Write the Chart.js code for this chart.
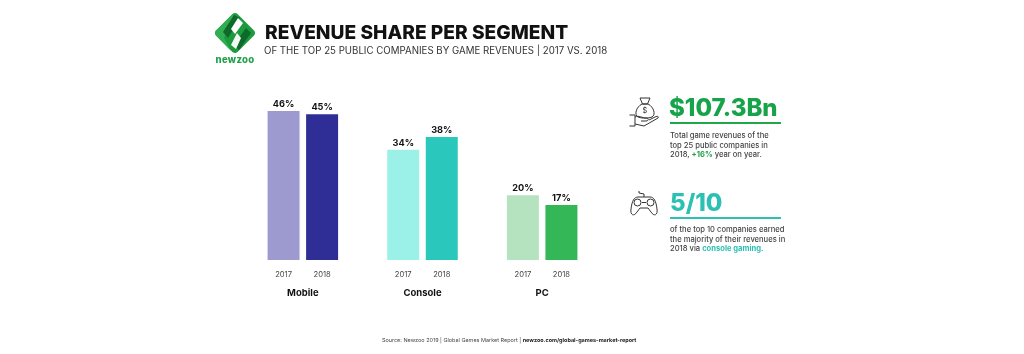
<!DOCTYPE html>
<html>
<head>
<meta charset="utf-8">
<title>Revenue share per segment</title>
<script src="https://cdn.jsdelivr.net/npm/chart.js@4"></script>
<style>
  html, body { margin: 0; padding: 0; background: #fff; }
  body { width: 1024px; height: 354px; position: relative; overflow: hidden; font-family: Inter, sans-serif; color: #1a1a1a; }
  #chart { position: absolute; left: 0; top: 0; }
  .t { position: absolute; white-space: nowrap; }
  .blurb { font-size: 7.6px; line-height: 9.6px; color: #444; font-weight: 500; }
  svg { position: absolute; }
</style>
</head>
<body>
<canvas id="chart" width="1024" height="354"></canvas>

<!-- logo -->
<svg style="left:214px;top:12px" width="42" height="42" viewBox="0 0 42 42">
  <path d="M18.5 2 Q21 0 23.5 2 L40 18.5 Q42 21 40 23.5 L23.5 40 Q21 42 18.5 40 L2 23.5 Q0 21 2 18.5 Z" fill="#1c9a3e"/>
  <path d="M20 1.5 L10 26 L17 39 L2 23.5 Q0 21 2 18.5 Z" fill="#2fae52"/>
  <path d="M20 3 L26 6 L14 26 L9 20 Z" fill="#0d6a2a"/>
  <path d="M32 16 L37 21 L25 38 L20 33 Z" fill="#0d6a2a"/>
  <path d="M24 6 L29 11 L21 22 L17 17 Z" fill="#fff"/>
  <path d="M23 21 L27 26 L22 37 L17 33 Z" fill="#f2faf3"/>
</svg>
<div class="t" style="left:215.5px;top:54px;font-size:9.6px;font-weight:800;color:#22a04a;letter-spacing:.3px">newzoo</div>

<div class="t" style="left:265px;top:20px;font-size:19.2px;font-weight:800;color:#111" id="title">REVENUE SHARE PER SEGMENT</div>
<div class="t" style="left:264px;top:44.5px;font-size:9.7px;font-weight:400;color:#333" id="sub">OF THE TOP 25 PUBLIC COMPANIES BY GAME REVENUES | 2017 VS. 2018</div>

<!-- money bag icon -->
<svg style="left:629px;top:95px" width="32" height="33" viewBox="0 0 32 33" fill="none" stroke="#333" stroke-width="1">
  <path d="M13 9 C7 12 5 20 9 22 C12 23.5 20 23.5 23 22 C27 20 25 12 19 9 Z"/>
  <path d="M11 3 L21 3 L18.5 9 L13.5 9 Z"/>
  <path d="M0.5 20 L6 20 L6 31 L0.5 31 M6 22 C10 20 13 23 17 23 C20 23 20 26 17 26 L12 26 M6 29 L15 31 L29 23 C30 21 28 21 26 22 L20 25"/>
</svg>
<div class="t" style="left:629px;top:106px;width:32px;text-align:center;font-size:7.5px;color:#333">$</div>

<div class="t" style="left:669px;top:93px;font-size:24px;font-weight:800;color:#16a34a" id="big1">$107.3Bn</div>
<svg style="left:670px;top:122px" width="112" height="3"><rect width="111" height="2" fill="#1fa74a"/></svg>
<div class="t blurb" style="left:670px;top:131px">Total game revenues of the<br>top 25 public companies in<br>2018, <b style="color:#22a04a">+16%</b> year on year.</div>

<!-- gamepad icon -->
<svg style="left:629px;top:190px" width="30" height="27" viewBox="0 0 30 27" fill="none" stroke="#333" stroke-width="1">
  <path d="M9 7 L21 7 C25 7 27 11 28 19 C29 25 25 27 22 22 L19 18 L11 18 L8 22 C5 27 1 25 2 19 C3 11 5 7 9 7 Z"/>
  <circle cx="8.5" cy="12.5" r="3.5"/><circle cx="21.5" cy="12.5" r="3.5"/>
  <path d="M15 7 L15 4 L10 3 L10 1"/>
  <path d="M13 12.5 L17 12.5"/>
</svg>

<div class="t" style="left:670px;top:188px;font-size:24px;font-weight:800;color:#2cc0b4" id="big2">5/10</div>
<svg style="left:670px;top:217px" width="112" height="3"><rect width="111" height="2" fill="#2cc0b4"/></svg>
<div class="t blurb" style="left:670px;top:225px">of the top 10 companies earned<br>the majority of their revenues in<br>2018 via <b style="color:#2cc0b4">console gaming.</b></div>

<div class="t" style="left:382px;top:337px;font-size:5.47px;color:#444" id="src">Source: Newzoo 2019 | Global Games Market Report | <b style="color:#222">newzoo.com/global-games-market-report</b></div>

<script>
const categories = ['Mobile', 'Console', 'PC'];
const years = ['2017', '2018'];
const values2017 = [46, 34, 20];
const values2018 = [45, 38, 17];
const colors2017 = ['#9d9ad0', '#9bf0e8', '#b5e3c0'];
const colors2018 = ['#2e2e96', '#2ac8bc', '#34b757'];

// percent labels over the bars and the year under each bar
const barText = {
  id: 'barText',
  afterDatasetsDraw(chart) {
    const { ctx, chartArea } = chart;
    ctx.save();
    ctx.textAlign = 'center';
    chart.data.datasets.forEach((ds, d) => {
      chart.getDatasetMeta(d).data.forEach((bar, i) => {
        ctx.fillStyle = '#111';
        ctx.font = '700 9.2px Inter';
        ctx.fillText(ds.data[i] + '%', bar.x, bar.y - 4);
        ctx.fillStyle = '#444';
        ctx.font = '400 7.6px Inter';
        ctx.fillText(years[d], bar.x, chartArea.bottom + 16.5);
      });
    });
    ctx.restore();
  }
};

new Chart(document.getElementById('chart'), {
  type: 'bar',
  data: {
    labels: categories,
    datasets: [
      { label: years[0], data: values2017, backgroundColor: colors2017 },
      { label: years[1], data: values2018, backgroundColor: colors2018 }
    ]
  },
  options: {
    responsive: false,
    animation: false,
    layout: { padding: { left: 243, right: 422, top: 98, bottom: 0 } },
    categoryPercentage: 0.644,
    barPercentage: 0.83,
    plugins: { legend: { display: false }, tooltip: { enabled: false } },
    scales: {
      x: {
        border: { display: false },
        grid: { display: false, drawTicks: false },
        ticks: { color: '#111', font: { family: 'Inter', size: 9.5, weight: '700' }, padding: 27.5, maxRotation: 0 },
        afterFit(scale) { scale.height = 94; }
      },
      y: { display: false, min: 0, max: 50 }
    }
  },
  plugins: [barText]
});
</script>
</body>
</html>
